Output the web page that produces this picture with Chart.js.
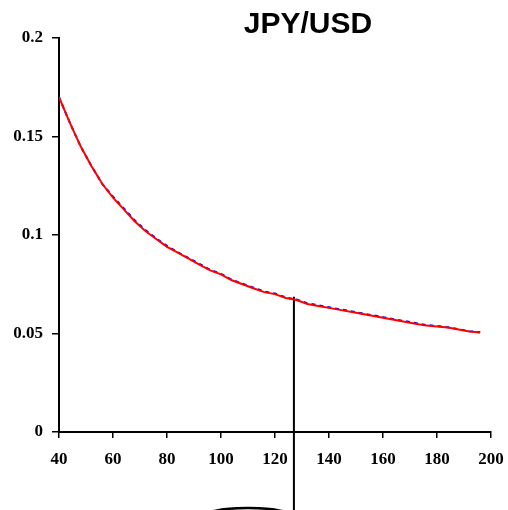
<!DOCTYPE html>
<html>
<head>
<meta charset="utf-8">
<script src="https://cdn.jsdelivr.net/npm/chart.js@4"></script>
<style>
    html, body { margin: 0; padding: 0; background: #ffffff; }
    #wrap { width: 508px; height: 510px; }
</style>
</head>
<body>
<div id="wrap"><canvas id="fxChart" width="508" height="510"></canvas></div>
<script>
// values
const xValues = [40, 44, 48, 52, 56, 60, 64, 68, 72, 76, 80, 84, 88, 92, 96, 100, 104, 108, 112, 116,
                 120, 124, 128, 132, 136, 140, 144, 148, 152, 156, 160, 164, 168, 172, 176, 180, 184, 188, 192, 196];
const redValues = [0.170, 0.157, 0.145, 0.135, 0.126, 0.119, 0.113, 0.107, 0.102, 0.098,
                   0.094, 0.091, 0.088, 0.085, 0.082, 0.080, 0.077, 0.075, 0.073, 0.071,
                   0.070, 0.068, 0.067, 0.065, 0.064, 0.063, 0.062, 0.061, 0.060, 0.059,
                   0.058, 0.057, 0.056, 0.055, 0.054, 0.0535, 0.053, 0.052, 0.051, 0.0505];
const blueValues = [0.170, 0.157, 0.145, 0.135, 0.126, 0.1195, 0.1135, 0.1075, 0.1025, 0.0983,
                    0.0945, 0.0912, 0.0883, 0.0853, 0.0823, 0.0803, 0.0773, 0.0753, 0.0733, 0.0713,
                    0.0703, 0.0683, 0.0673, 0.0653, 0.0643, 0.0633, 0.0623, 0.0613, 0.0603, 0.0593,
                    0.0583, 0.0573, 0.0563, 0.0553, 0.0543, 0.0538, 0.0532, 0.0522, 0.0512, 0.0506];
const markerX = [127, 127];
const markerY = [0.0687, -0.0405];
const arcX = [96, 102, 110, 118, 124];
const arcY = [-0.0405, -0.0391, -0.0386, -0.0391, -0.0405];
const xTicks = [40, 60, 80, 100, 120, 140, 160, 180, 200];
const yTicks = [0, 0.05, 0.1, 0.15, 0.2];
const yTickLabels = ['0', '0.05', '0.1', '0.15', '0.2'];

function toPoints(xs, ys) {
    return xs.map((x, i) => ({x: x, y: ys[i]}));
}

const titlePlugin = {
    id: 'fxTitle',
    afterDraw(chart) {
        const ctx = chart.ctx;
        ctx.save();
        ctx.font = 'bold 30px "Liberation Sans", Arial, sans-serif';
        ctx.fillStyle = '#000000';
        ctx.textAlign = 'center';
        ctx.textBaseline = 'alphabetic';
        ctx.fillText('JPY/USD', 308, 33);
        ctx.restore();
    }
};

const tickFont = {family: '"Liberation Serif", "Times New Roman", serif', size: 17, weight: 'bold'};

new Chart(document.getElementById('fxChart').getContext('2d'), {
    type: 'scatter',
    data: {
        datasets: [
            {
                data: toPoints(xValues, redValues),
                showLine: true,
                borderColor: '#ff0000',
                borderWidth: 2,
                pointRadius: 0,
                tension: 0
            },
            {
                data: toPoints(xValues, blueValues),
                showLine: true,
                borderColor: '#0000ff',
                borderWidth: 2,
                borderDash: [4, 4],
                pointRadius: 0,
                tension: 0
            },
            {
                data: toPoints(markerX, markerY),
                showLine: true,
                borderColor: '#000000',
                borderWidth: 2,
                pointRadius: 0,
                clip: false
            },
            {
                data: toPoints(arcX, arcY),
                showLine: true,
                borderColor: '#000000',
                borderWidth: 2.5,
                pointRadius: 0,
                tension: 0.4,
                clip: false
            }
        ]
    },
    options: {
        responsive: false,
        animation: false,
        layout: {padding: {top: 38, right: 17, left: 0, bottom: 0}},
        plugins: {
            legend: {display: false},
            tooltip: {enabled: false}
        },
        scales: {
            x: {
                type: 'linear',
                min: 40,
                max: 200,
                afterFit: axis => {
                    axis.height = 78;
                    axis.paddingLeft = 0;
                    axis.paddingRight = 0;
                },
                afterBuildTicks: axis => { axis.ticks = xTicks.map(v => ({value: v})); },
                grid: {drawOnChartArea: false, drawTicks: true, tickLength: 6, color: '#000000', lineWidth: 1.5},
                border: {display: true, color: '#000000', width: 2},
                ticks: {color: '#000000', font: tickFont, padding: 11, maxRotation: 0}
            },
            y: {
                min: 0,
                max: 0.2,
                afterFit: axis => {
                    axis.width = 59;
                    axis.paddingTop = 0;
                    axis.paddingBottom = 0;
                },
                afterBuildTicks: axis => { axis.ticks = yTicks.map(v => ({value: v})); },
                grid: {drawOnChartArea: false, drawTicks: true, tickLength: 7, color: '#000000', lineWidth: 1.5},
                border: {display: true, color: '#000000', width: 2},
                ticks: {
                    color: '#000000',
                    font: tickFont,
                    padding: 9,
                    callback: (value) => yTickLabels[yTicks.indexOf(value)]
                }
            }
        }
    },
    plugins: [titlePlugin]
});
</script>
</body>
</html>
